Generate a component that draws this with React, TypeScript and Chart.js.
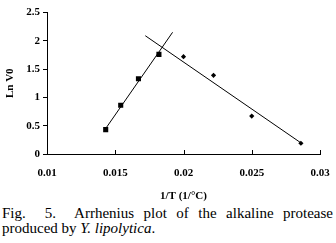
import React, { useEffect, useRef } from "react";
import { Chart, registerables } from "chart.js";

Chart.register(...registerables);

// Data
const invT1 = [0.0143, 0.0154, 0.0167, 0.0182];
const lnV1 = [0.43, 0.86, 1.33, 1.76];
const invT2 = [0.02, 0.0222, 0.025, 0.0286];
const lnV2 = [1.72, 1.39, 0.67, 0.19];
const fit1X = [0.0143, 0.0192];
const fit1Y = [0.45, 2.15];
const fit2X = [0.0172, 0.0287];
const fit2Y = [2.09, 0.18];
const xTickValues = [0.01, 0.015, 0.02, 0.025, 0.03];
const xTickLabels = ["0.01", "0.015", "0.02", "0.025", "0.03"];
const yTickValues = [0, 0.5, 1, 1.5, 2, 2.5];
const yTickLabels = ["0", "0.5", "1", "1.5", "2", "2.5"];
const xTitle = "1/T (1/°C)";
const yTitle = "Ln V0";

const FONT = "'Liberation Serif', 'Times New Roman', serif";

const toPts = (xs: number[], ys: number[]) => xs.map((x, i) => ({ x, y: ys[i] }));

const innerTicks = {
  id: "innerTicks",
  afterDraw(chart: any) {
    const sx = chart.scales.x;
    const ctx = chart.ctx;
    ctx.save();
    ctx.strokeStyle = "#000";
    ctx.lineWidth = 1;
    sx.ticks.forEach((t: any) => {
      const px = Math.round(sx.getPixelForValue(t.value)) + 0.5;
      ctx.beginPath();
      ctx.moveTo(px, sx.top);
      ctx.lineTo(px, sx.top - 4);
      ctx.stroke();
    });
    ctx.restore();
  },
};

function ArrheniusChart() {
  const ref = useRef<HTMLCanvasElement | null>(null);
  useEffect(() => {
    if (!ref.current) return;
    const chart = new Chart(ref.current, {
      type: "scatter",
      data: {
        datasets: [
          {
            data: toPts(fit1X, fit1Y),
            showLine: true,
            borderColor: "#000",
            borderWidth: 1,
            pointRadius: 0,
          },
          {
            data: toPts(fit2X, fit2Y),
            showLine: true,
            borderColor: "#000",
            borderWidth: 1,
            pointRadius: 0,
          },
          {
            data: toPts(invT1, lnV1),
            pointStyle: "rect",
            pointRadius: 3.6,
            backgroundColor: "#000",
            borderColor: "#000",
            borderWidth: 0,
          },
          {
            data: toPts(invT2, lnV2),
            pointStyle: "rectRot",
            pointRadius: 2.6,
            backgroundColor: "#000",
            borderColor: "#000",
            borderWidth: 0,
          },
        ],
      },
      options: {
        responsive: false,
        animation: false,
        devicePixelRatio: 1,
        layout: { padding: { top: 12.5, right: 16, left: 0, bottom: 0 } },
        plugins: {
          legend: { display: false },
          tooltip: { enabled: false },
        },
        scales: {
          x: {
            type: "linear",
            min: 0.01,
            max: 0.03,
            afterBuildTicks: (s: any) => {
              s.ticks = xTickValues.map((v) => ({ value: v }));
            },
            afterFit: (s: any) => {
              s.height = 49;
              s.paddingLeft = 0;
              s.paddingRight = 0;
            },
            grid: { display: false, drawTicks: false },
            border: { display: true, color: "#000", width: 1 },
            ticks: {
              color: "#000",
              padding: 12.5,
              maxRotation: 0,
              font: { family: FONT, size: 11, weight: "bold" },
              callback: (v: any) => {
                const i = xTickValues.findIndex((t) => Math.abs(t - v) < 1e-9);
                return i >= 0 ? xTickLabels[i] : "";
              },
            },
            title: {
              display: true,
              text: xTitle,
              color: "#000",
              padding: { top: 0, bottom: 0 },
              font: { family: FONT, size: 11, weight: "bold" },
            },
          },
          y: {
            type: "linear",
            min: 0,
            max: 2.5,
            afterBuildTicks: (s: any) => {
              s.ticks = yTickValues.map((v) => ({ value: v }));
            },
            afterFit: (s: any) => {
              s.width = 47;
              s.paddingTop = 0;
              s.paddingBottom = 0;
            },
            grid: {
              display: true,
              drawOnChartArea: false,
              drawTicks: true,
              tickLength: 4,
              color: "#000",
            },
            border: { display: true, color: "#000", width: 1 },
            ticks: {
              color: "#000",
              padding: 3,
              font: { family: FONT, size: 11, weight: "bold" },
              callback: (v: any) => {
                const i = yTickValues.findIndex((t) => Math.abs(t - v) < 1e-9);
                return i >= 0 ? yTickLabels[i] : "";
              },
            },
            title: {
              display: true,
              text: yTitle,
              color: "#000",
              padding: { top: 3.5, bottom: 0 },
              font: { family: FONT, size: 11, weight: "bold" },
            },
          },
        },
      },
      plugins: [innerTicks],
    } as any);
    return () => chart.destroy();
  }, []);
  return (
    <canvas
      ref={ref}
      width={336}
      height={203}
      style={{ position: "absolute", left: 0, top: 0, width: 336, height: 203 }}
    />
  );
}

export default function App() {
  return (
    <div
      style={{
        position: "fixed",
        left: 0,
        top: 0,
        width: 336,
        height: 243,
        background: "#fff",
        overflow: "hidden",
      }}
    >
      <ArrheniusChart />
      <div
        style={{
          position: "absolute",
          left: 2,
          top: 205.5,
          width: 331,
          fontFamily: FONT,
          fontSize: 15,
          lineHeight: "15px",
          color: "#000",
        }}
      >
        <div
          style={{
            textAlign: "justify",
            textAlignLast: "justify" as any,
            whiteSpace: "pre-wrap",
          }}
        >
          {"Fig.  5.  Arrhenius plot of the alkaline protease"}
        </div>
        <div>
          produced by <i>Y. lipolytica</i>.
        </div>
      </div>
    </div>
  );
}
